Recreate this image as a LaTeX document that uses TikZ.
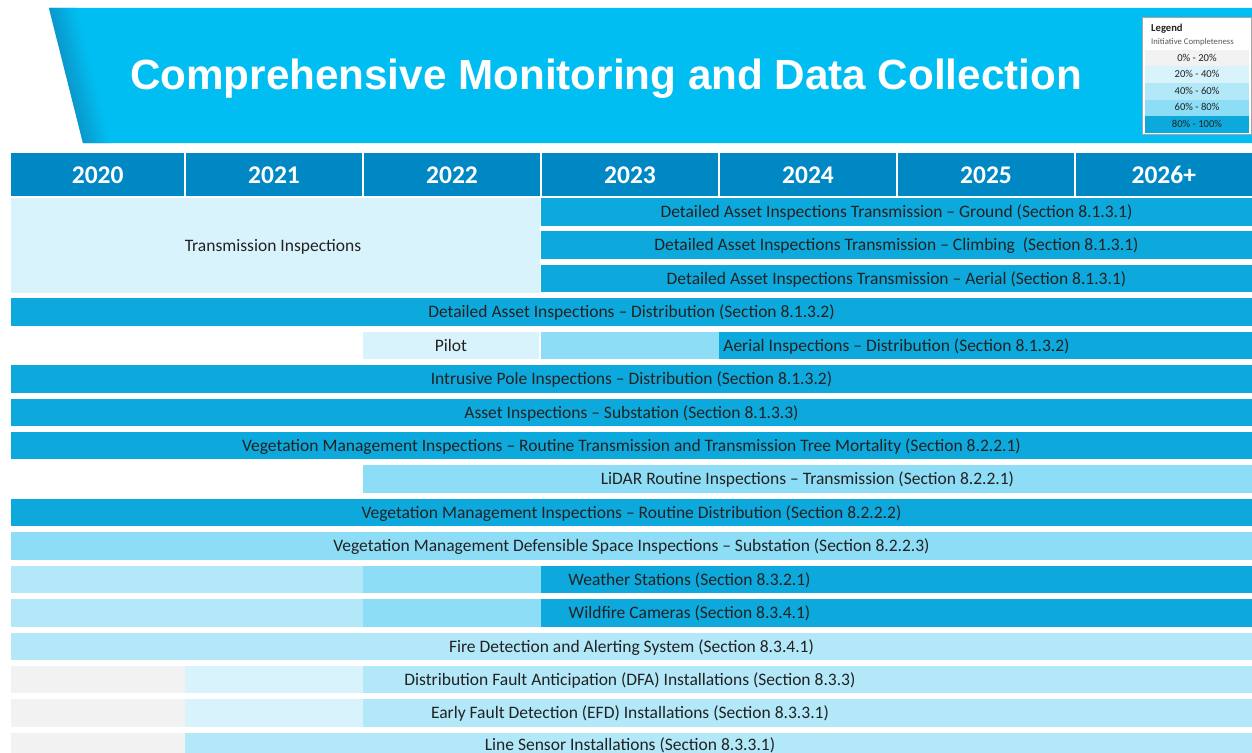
\documentclass[tikz,border=0pt]{standalone}
\usepackage{fontspec}
\setmainfont{Carlito}
\newfontfamily\titlefont{Liberation Sans}
\definecolor{banner}{HTML}{00BEF2}
\definecolor{bannerdark}{HTML}{0B98CC}
\definecolor{hdr}{HTML}{0088C5}
\definecolor{cA}{HTML}{F2F2F2}
\definecolor{cB}{HTML}{D9F3FC}
\definecolor{cC}{HTML}{B3E8F9}
\definecolor{cD}{HTML}{8EDDF7}
\definecolor{cE}{HTML}{0DA9DD}
\definecolor{txt}{HTML}{222222}
\tikzset{
  cell/.style={anchor=north west, inner sep=0pt, outer sep=0pt, text=txt,
    font=\fontsize{17.5}{19}\selectfont, align=center, text height=14pt, text depth=2.5pt},
  lbl/.style={inner sep=0pt, outer sep=0pt, text=txt, font=\fontsize{17.5}{19}\selectfont,
    text height=14pt, text depth=2.5pt},
  yearcell/.style={anchor=north west, inner sep=0pt, outer sep=0pt, fill=hdr, text=white,
    font=\fontsize{25.5}{28}\bfseries\selectfont, minimum height=43, text height=17pt, text depth=0pt},
  legrow/.style={anchor=north west, inner sep=0pt, outer sep=0pt, text=txt,
    font=\fontsize{10.6}{12}\selectfont, minimum width=104, text height=7.5pt, text depth=1.5pt},
}
% \gcell{name}{x1}{x2}{ytop}{colour}{text}
\newcommand\gcell[6]{\node[cell, fill=#5, minimum width=#3-#2, minimum height=27.5] (#1) at (#2,#4) {#6};}
\begin{document}
\begin{tikzpicture}[x=1pt,y=-1pt]
\useasboundingbox (0,0) rectangle (1252,752);
\fill[white] (0,0) rectangle (1252,752);
% banner
\fill[banner] (49,8) -- (1252,8) -- (1252,143) -- (83,143) -- cycle;
\foreach \i in {0,...,13}{
  \pgfmathsetmacro\pc{100-\i*7.5}
  \fill[bannerdark!\pc!banner] ({49+\i*2},8) -- ({51.2+\i*2},8) -- ({85.2+\i*2},143) -- ({83+\i*2},143) -- cycle;
}
\node[inner sep=0pt, text=white, font=\titlefont\fontsize{42.2}{45}\bfseries\selectfont] (title) at (606,79) {Comprehensive Monitoring and Data Collection};
% legend
\node[draw=black!35, line width=0.8pt, fill=white, anchor=north west, minimum width=108.5, minimum height=117, inner sep=0pt] (legbox) at (1142,17) {};
\node[anchor=west, inner sep=0pt, text=txt, font=\fontsize{10.6}{12}\bfseries\selectfont] (legtitle) at (1151,29) {Legend};
\node[anchor=west, inner sep=0pt, text=black!65, font=\fontsize{8.7}{10}\selectfont] (legsub) at (1151,42) {Initiative Completeness};
\node[legrow, fill=cA, minimum height=16.5] (l1) at (1145,50) {0\% - 20\%};
\node[legrow, fill=cB, minimum height=16.5] (l2) at (1145,66.5) {20\% - 40\%};
\node[legrow, fill=cC, minimum height=16.5] (l3) at (1145,83) {40\% - 60\%};
\node[legrow, fill=cD, minimum height=16.5] (l4) at (1145,99.5) {60\% - 80\%};
\node[legrow, fill=cE, minimum height=16.5] (l5) at (1145,116) {80\% - 100\%};
% header years
\node[yearcell, minimum width=173.4] (y2020) at (11,153) {2020};
\node[yearcell, minimum width=176.8] (y2021) at (185.6,153) {2021};
\node[yearcell, minimum width=176.8] (y2022) at (363.6,153) {2022};
\node[yearcell, minimum width=176.8] (y2023) at (541.6,153) {2023};
\node[yearcell, minimum width=176.8] (y2024) at (719.6,153) {2024};
\node[yearcell, minimum width=176.8] (y2025) at (897.6,153) {2025};
\node[yearcell, minimum width=176.4] (y2026) at (1075.6,153) {2026+};
% rows
\node[cell, fill=cB, minimum width=529, minimum height=95] (trans) at (11,198) {};
\node[lbl] (transtxt) at (273,245.5) {Transmission Inspections};
\gcell{tg}{541}{1252}{198}{cE}{Detailed Asset Inspections Transmission – Ground (Section 8.1.3.1)}
\gcell{tc}{541}{1252}{231.4}{cE}{Detailed Asset Inspections Transmission – Climbing\ \ (Section 8.1.3.1)}
\gcell{ta}{541}{1252}{264.8}{cE}{Detailed Asset Inspections Transmission – Aerial (Section 8.1.3.1)}
\gcell{dd}{11}{1252}{298.3}{cE}{Detailed Asset Inspections – Distribution (Section 8.1.3.2)}
\gcell{pilot}{363}{539}{331.7}{cB}{Pilot}
\gcell{aer1}{541}{719}{331.7}{cD}{}
\gcell{aer2}{719}{1252}{331.7}{cE}{}
\node[lbl] (aertxt) at (896.5,345.5) {Aerial Inspections – Distribution (Section 8.1.3.2)};
\gcell{ip}{11}{1252}{365.1}{cE}{Intrusive Pole Inspections – Distribution (Section 8.1.3.2)}
\gcell{as}{11}{1252}{398.5}{cE}{Asset Inspections – Substation (Section 8.1.3.3)}
\gcell{vt}{11}{1252}{431.9}{cE}{Vegetation Management Inspections – Routine Transmission and Transmission Tree Mortality (Section 8.2.2.1)}
\gcell{li}{363}{1252}{465.4}{cD}{LiDAR Routine Inspections – Transmission (Section 8.2.2.1)}
\gcell{vd}{11}{1252}{498.8}{cE}{Vegetation Management Inspections – Routine Distribution (Section 8.2.2.2)}
\gcell{vs}{11}{1252}{532.2}{cD}{Vegetation Management Defensible Space Inspections – Substation (Section 8.2.2.3)}
\gcell{ws1}{11}{363}{565.6}{cC}{}
\gcell{ws2}{363}{541}{565.6}{cD}{}
\gcell{ws3}{541}{1252}{565.6}{cE}{}
\node[lbl] (wstxt) at (689.5,579.4) {Weather Stations (Section 8.3.2.1)};
\gcell{wc1}{11}{363}{599}{cC}{}
\gcell{wc2}{363}{541}{599}{cD}{}
\gcell{wc3}{541}{1252}{599}{cE}{}
\node[lbl] (wctxt) at (689.5,612.8) {Wildfire Cameras (Section 8.3.4.1)};
\gcell{fd}{11}{1252}{632.5}{cC}{Fire Detection and Alerting System (Section 8.3.4.1)}
\gcell{dfa1}{11}{185}{665.9}{cA}{}
\gcell{dfa2}{185}{363}{665.9}{cB}{}
\gcell{dfa3}{363}{1252}{665.9}{cC}{}
\node[lbl] (dfatxt) at (630,679.7) {Distribution Fault Anticipation (DFA) Installations (Section 8.3.3)};
\gcell{efd1}{11}{185}{699.3}{cA}{}
\gcell{efd2}{185}{363}{699.3}{cB}{}
\gcell{efd3}{363}{1252}{699.3}{cC}{}
\node[lbl] (efdtxt) at (630,713.1) {Early Fault Detection (EFD) Installations (Section 8.3.3.1)};
\gcell{ls1}{11}{185}{732.7}{cA}{}
\gcell{ls2}{185}{1252}{732.7}{cC}{}
\node[lbl] (lstxt) at (630,744.5) {Line Sensor Installations (Section 8.3.3.1)};
\end{tikzpicture}
\end{document}
